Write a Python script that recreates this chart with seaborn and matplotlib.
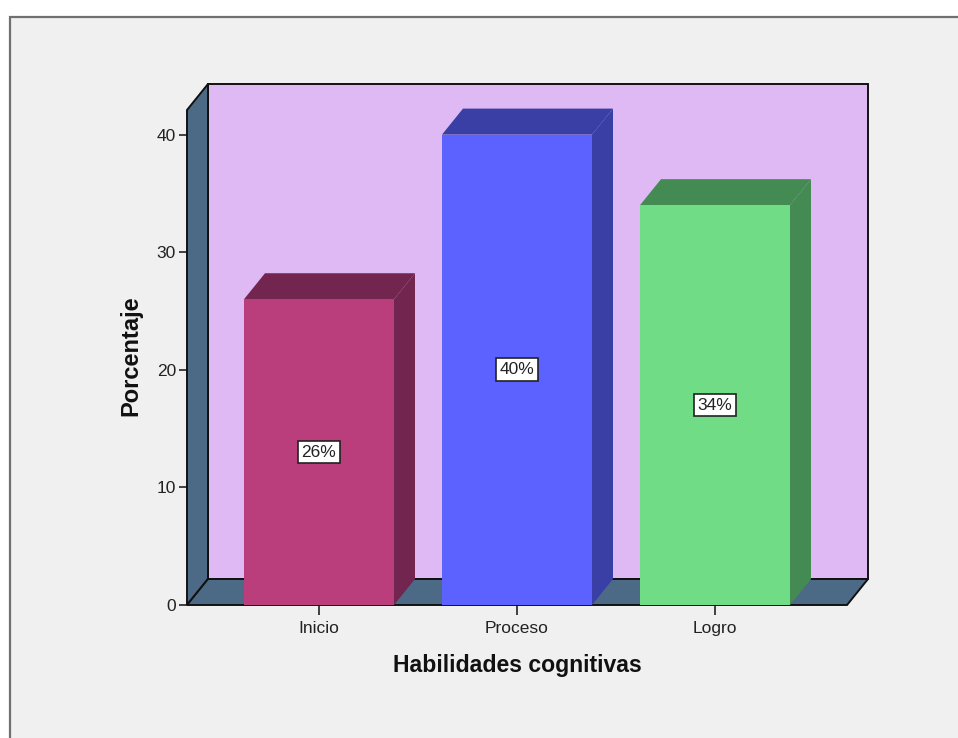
import seaborn as sns
import matplotlib.pyplot as plt
import pandas as pd
from matplotlib.patches import Rectangle

categories = ['Inicio', 'Proceso', 'Logro']
percent = [26, 40, 34]
y_ticks = [0, 10, 20, 30, 40]
front_colors = ['#BA3E7B', '#5B62FF', '#70DC85']
side_colors = ['#72264F', '#3A3FA5', '#448A53']

W, H = 958, 738
# pixel box of the plot, wall included
LEFT, RIGHT, TOP, BOTTOM = 187, 868, 84, 605
PX_PER_CAT = 198.0
PX_PER_UNIT = 11.76
BAR_WIDTH = 150 / PX_PER_CAT
DX = 21 / PX_PER_CAT
DY = 26 / PX_PER_UNIT

sns.set_theme(style='white')
plt.rcParams['font.family'] = ['Liberation Sans', 'DejaVu Sans']

fig = plt.figure(figsize=(W / 100, H / 100), dpi=100, facecolor='white')
# grey panel, its right and bottom edges run off the picture
fig.add_artist(Rectangle((10 / W, -0.02), 1.02, 1.02 - 17 / H, transform=fig.transFigure,
                         facecolor='#F0F0F0', edgecolor='#707070', linewidth=1.6, zorder=-1))
ax = fig.add_axes([LEFT / W, 1 - BOTTOM / H, (RIGHT - LEFT) / W, (BOTTOM - TOP) / H])
ax.patch.set_visible(False)

df = pd.DataFrame({'cat': categories, 'pct': percent})
sns.barplot(data=df, x='cat', y='pct', hue='cat', order=categories, hue_order=categories,
            palette=front_colors, saturation=1, width=BAR_WIDTH, legend=False, ax=ax, zorder=4,
            linewidth=0, edgecolor='none')

x0 = -(319 - LEFT) / PX_PER_CAT
x1 = x0 + (847 - 187) / PX_PER_CAT
ytop = (BOTTOM - TOP) / PX_PER_UNIT
ax.set_xlim(x0, x1 + DX)
ax.set_ylim(0, ytop)

# back wall, left wall, floor
wall = '#DEB9F3'
steel = '#4C6A85'
line = dict(edgecolor='#111111', linewidth=1.4, clip_on=False, joinstyle='miter')
ax.fill([x0 + DX, x1 + DX, x1 + DX, x0 + DX], [DY, DY, ytop, ytop], facecolor=wall, zorder=1, **line)
ax.fill([x0, x0 + DX, x0 + DX, x0], [0, DY, ytop, ytop - DY], facecolor=steel, zorder=2, **line)
ax.fill([x0, x1, x1 + DX, x0 + DX], [0, 0, DY, DY], facecolor=steel, zorder=2, **line)

# depth faces of every bar
for i, (v, side) in enumerate(zip(percent, side_colors)):
    a = i - BAR_WIDTH / 2
    b = i + BAR_WIDTH / 2
    ax.fill([b, b + DX, b + DX, b], [0, DY, v + DY, v], facecolor=side, edgecolor='none', zorder=3, clip_on=False)
    ax.fill([a, a + DX, b + DX, b], [v, v + DY, v + DY, v], facecolor=side, edgecolor='none', zorder=3, clip_on=False)
    ax.text(i, v / 2, f'{v}%', ha='center', va='center', fontsize=12.5, color='#222222', zorder=6,
            bbox=dict(boxstyle='square,pad=0.22', facecolor='white', edgecolor='#222222', linewidth=1.2))

sns.despine(ax=ax, left=True, bottom=True, right=True, top=True)
ax.set_yticks(y_ticks)
ax.set_xticks(range(len(categories)))
ax.set_xticklabels(categories)
ax.tick_params(axis='y', left=True, length=6, width=1.2, color='#222222', labelsize=12.5, labelcolor='#222222', pad=2)
ax.tick_params(axis='x', bottom=True, length=7.5, width=1.2, color='#222222', labelsize=12.5, labelcolor='#222222', pad=4)
ax.set_xlabel('')
ax.set_ylabel('')
fig.text(517 / W, 1 - 665.5 / H, 'Habilidades cognitivas', ha='center', va='center', fontsize=16.6,
         fontweight='bold', color='#111111')
fig.text(131 / W, 1 - 356 / H, 'Porcentaje', ha='center', va='center', rotation=90, fontsize=17,
         fontweight='bold', color='#111111')

fig.savefig('out.png', dpi=100, facecolor='white')
